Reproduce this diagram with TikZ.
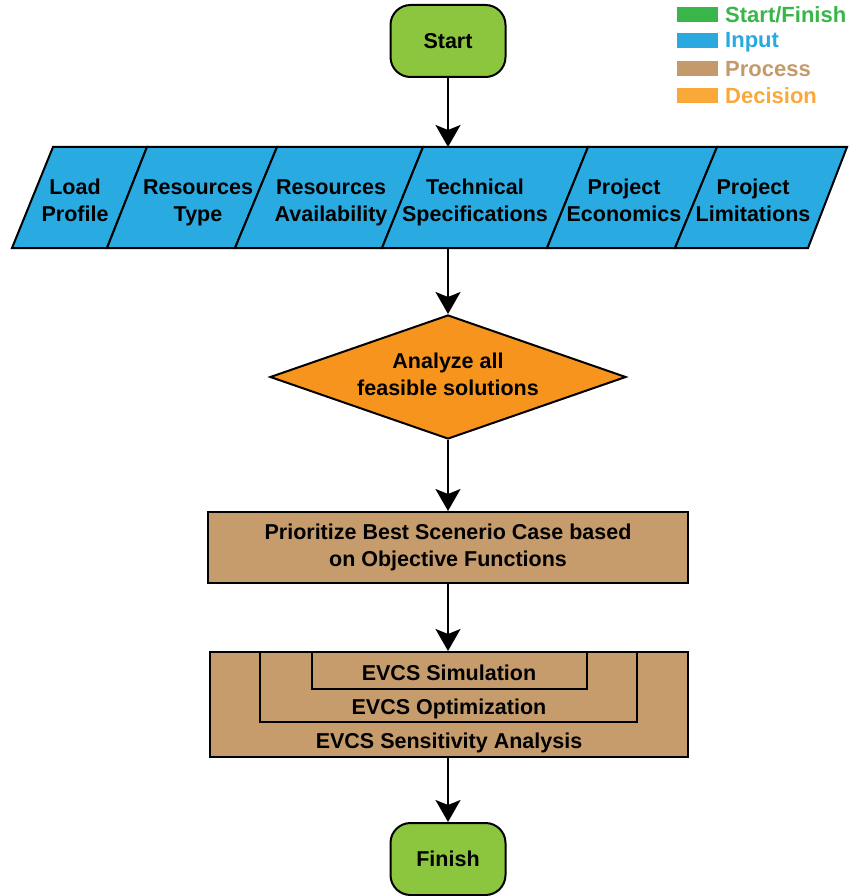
\documentclass[tikz,border=0pt]{standalone}
\usepackage{fontspec}
\setmainfont{Liberation Sans}
\usetikzlibrary{shapes.geometric,arrows.meta}

\definecolor{termfill}{HTML}{8CC63F}
\definecolor{inputfill}{HTML}{29ABE2}
\definecolor{procfill}{HTML}{C69C6D}
\definecolor{decfill}{HTML}{F7941E}
\definecolor{keygreen}{HTML}{39B54A}
\definecolor{keyblue}{HTML}{29A9E0}
\definecolor{keybrown}{HTML}{C49A6C}
\definecolor{keyorange}{HTML}{FAA83A}

\tikzset{
  txt/.style={font=\fontsize{21.5}{27}\selectfont\bfseries, align=center, inner sep=0pt},
  terminal/.style={draw, line width=2pt, fill=termfill, rounded corners=20pt,
    minimum width=115pt, minimum height=72pt, txt},
  cell/.style={draw, line width=2pt, fill=inputfill, line join=miter},
  decisionbox/.style={draw, line width=2pt, fill=decfill, shape=diamond, aspect=2.87,
    minimum width=356pt, minimum height=124pt, txt},
  procbox/.style={draw, line width=2pt, fill=procfill},
  arr/.style={line width=2pt, -{Stealth[length=22pt,width=25pt,inset=5pt]}},
  keysw/.style={minimum width=41pt, minimum height=15pt, inner sep=0pt},
  keytxt/.style={font=\fontsize{22}{26}\selectfont\bfseries, anchor=west, inner sep=0pt}
}

\begin{document}
\begin{tikzpicture}[x=1pt,y=-1pt]
\useasboundingbox (0,0) rectangle (848,896);

% legend
\node[keysw, fill=keygreen]  (k1) at (697.5,15) {};
\node[keysw, fill=keyblue]   (k2) at (697.5,41) {};
\node[keysw, fill=keybrown]  (k3) at (697.5,69) {};
\node[keysw, fill=keyorange] (k4) at (697.5,96) {};
\node[keytxt, text=keygreen]  (l1) at (725,15) {Start/Finish};
\node[keytxt, text=keyblue]   (l2) at (725,42) {Input};
\node[keytxt, text=keybrown]  (l3) at (725,69) {Process};
\node[keytxt, text=keyorange] (l4) at (725,96) {Decision};

% start
\node[terminal] (start) at (448,41) {Start};

% input strip: six slanted cells
\foreach \ta/\tb/\ba/\bb in {53/147/12/107, 147/277/107/235, 277/423/235/382,
                             423/588/382/547, 588/717/547/675, 717/847/675/808}{
  \draw[cell] (\ta,147) -- (\tb,147) -- (\bb,248) -- (\ba,248) -- cycle;
}
\node[txt] (c1) at (75,202.5)  {Load\strut\\Profile\strut};
\node[txt] (c2) at (198,202.5) {Resources\strut\\Type\strut};
\node[txt] (c3) at (331,202.5) {Resources\strut\\Availability\strut};
\node[txt] (c4) at (475,202.5) {Technical\strut\\Specifications\strut};
\node[txt] (c5) at (624,202.5) {Project\strut\\Economics\strut};
\node[txt] (c6) at (753,202.5) {Project\strut\\Limitations\strut};
\coordinate (intop) at (448,147);
\coordinate (inbot) at (448,248);

% decision
\node[decisionbox] (dec) at (448,377) {Analyze all\strut\\feasible solutions\strut};

% prioritise
\node[procbox, minimum width=480pt, minimum height=71pt, txt] (prio) at (448,547.5)
  {Prioritize Best Scenerio Case based\\on Objective Functions};

% nested EVCS boxes
\node[procbox, minimum width=478pt, minimum height=105pt] (sens) at (449,704.5) {};
\node[procbox, minimum width=377pt, minimum height=70pt]  (opt)  at (448.5,687) {};
\node[procbox, minimum width=275pt, minimum height=37pt]  (sim)  at (449.5,670.5) {};
\node[txt, anchor=base] (simt)  at (449,680) {EVCS Simulation};
\node[txt, anchor=base] (optt)  at (449,714) {EVCS Optimization};
\node[txt, anchor=base] (senst) at (449,748) {EVCS Sensitivity Analysis};

% finish
\node[terminal] (finish) at (448,859) {Finish};

% connectors
\draw[arr] (start) -- (intop);
\draw[arr] (inbot) -- (dec);
\draw[arr] (dec) -- (prio);
\draw[arr] (prio) -- (prio |- sens.north);
\draw[arr] (sens.south -| finish) -- (finish);
\end{tikzpicture}
\end{document}
